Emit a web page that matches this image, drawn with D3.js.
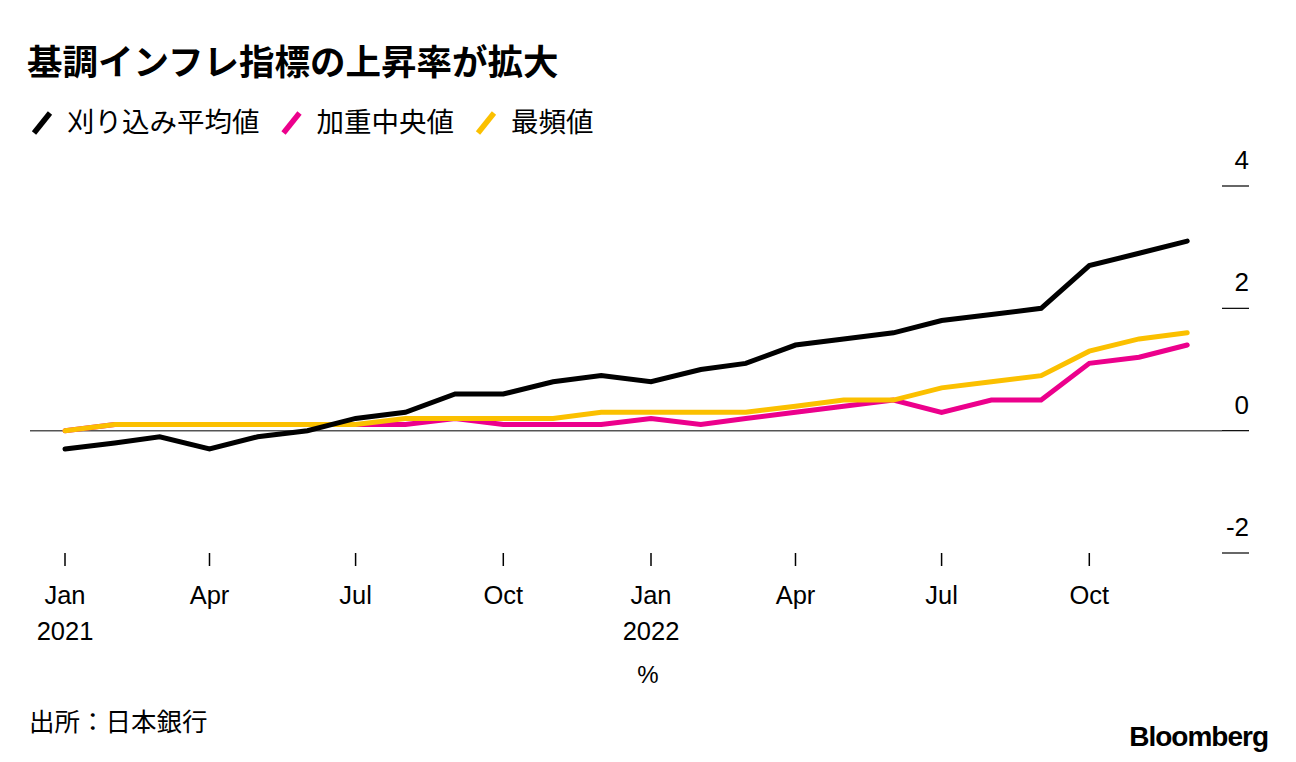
<!DOCTYPE html>
<html><head><meta charset="utf-8">
<script src="https://cdn.jsdelivr.net/npm/d3@7"></script>
<style>
body{margin:0;background:#fff;}
svg{display:block;font-family:"Liberation Sans","Noto Sans CJK JP",sans-serif;}
</style></head>
<body><svg id="c" width="1296" height="762"></svg>
<script>
const months = ["2021-01","2021-02","2021-03","2021-04","2021-05","2021-06","2021-07","2021-08","2021-09","2021-10","2021-11","2021-12",
"2022-01","2022-02","2022-03","2022-04","2022-05","2022-06","2022-07","2022-08","2022-09","2022-10","2022-11","2022-12"];
const trimmedMean = [-0.3,-0.2,-0.1,-0.3,-0.1,0.0,0.2,0.3,0.6,0.6,0.8,0.9,0.8,1.0,1.1,1.4,1.5,1.6,1.8,1.9,2.0,2.7,2.9,3.1];
const weightedMedian = [0.0,0.1,0.1,0.1,0.1,0.1,0.1,0.1,0.2,0.1,0.1,0.1,0.2,0.1,0.2,0.3,0.4,0.5,0.3,0.5,0.5,1.1,1.2,1.4];
const mode = [0.0,0.1,0.1,0.1,0.1,0.1,0.1,0.2,0.2,0.2,0.2,0.3,0.3,0.3,0.3,0.4,0.5,0.5,0.7,0.8,0.9,1.3,1.5,1.6];
const seriesNames = ["刈り込み平均値","加重中央値","最頻値"];
const seriesColors = ["#000000","#ec008c","#fbc000"];
const yTicks = [-2,0,2,4];
const xTickDates = ["2021-01","2021-04","2021-07","2021-10","2022-01","2022-04","2022-07","2022-10"];
const xTickLabels = ["Jan","Apr","Jul","Oct","Jan","Apr","Jul","Oct"];
const xTickYears = ["2021","","","","2022","","",""];
const title = "基調インフレ指標の上昇率が拡大";
const unit = "%";
const source = "出所：日本銀行";

const parse = d3.timeParse("%Y-%m");
const svg = d3.select("#c");
const x = d3.scaleTime().domain([parse("2021-01"), parse("2022-01")]).range([65, 651]);
const y = d3.scaleLinear().domain([-2, 4]).range([553, 186]);
const jp = "'Noto Sans CJK JP',sans-serif";

svg.append("text").attr("x",27).attr("y",75).attr("font-size",35.5).attr("font-weight",700)
  .attr("font-family",jp).attr("fill","#000").text(title);

// legend
let lx = 30;
const legG = svg.append("g");
seriesNames.forEach((n,i)=>{
  const g = legG.append("g");
  g.append("line").attr("x1",lx+4).attr("y1",133).attr("x2",lx+20).attr("y2",113)
   .attr("stroke",seriesColors[i]).attr("stroke-width",5.5).attr("stroke-linecap","butt");
  const t = g.append("text").attr("x",lx+37).attr("y",132).attr("font-size",27.5).attr("font-family",jp)
   .attr("fill","#000").text(n);
  lx += 37 + t.node().getComputedTextLength() + 20;
});

// y axis ticks
const yg = svg.append("g");
yTicks.forEach(v=>{
  yg.append("line").attr("x1",1222).attr("x2",1249).attr("y1",y(v)).attr("y2",y(v))
    .attr("stroke","#000").attr("stroke-width",1.2);
  yg.append("text").attr("x",1249).attr("y",y(v)-17).attr("text-anchor","end")
    .attr("font-size",26).attr("fill","#000").text(v);
});
// zero line
svg.append("line").attr("x1",30).attr("x2",1222).attr("y1",y(0)).attr("y2",y(0))
  .attr("stroke","#555").attr("stroke-width",1.5);

// x axis ticks
const xg = svg.append("g");
xTickDates.forEach((d,i)=>{
  const xx = x(parse(d));
  xg.append("line").attr("x1",xx).attr("x2",xx).attr("y1",553).attr("y2",566)
    .attr("stroke","#000").attr("stroke-width",1.5);
  xg.append("text").attr("x",xx).attr("y",604).attr("text-anchor","middle").attr("font-size",25.5)
    .attr("fill","#000").text(xTickLabels[i]);
  if (xTickYears[i]) xg.append("text").attr("x",xx).attr("y",640).attr("text-anchor","middle")
    .attr("font-size",25.5).attr("fill","#000").text(xTickYears[i]);
});
svg.append("text").attr("x",x(parse("2022-01"))-3).attr("y",683).attr("text-anchor","middle")
  .attr("font-size",24).attr("fill","#000").text(unit);

// lines
const dates = months.map(parse);
const line = d3.line().x((d,i)=>x(dates[i])).y(d=>y(d));
const order = [1,2,0];
const allSeries = [trimmedMean, weightedMedian, mode];
order.forEach(i=>{
  svg.append("path").attr("d", line(allSeries[i])).attr("fill","none")
    .attr("stroke",seriesColors[i]).attr("stroke-width",5).attr("stroke-linejoin","miter")
    .attr("stroke-linecap","round");
});

svg.append("text").attr("x",29).attr("y",731).attr("font-size",25.5).attr("font-family",jp)
  .attr("fill","#000").text(source);
svg.append("text").attr("x",1268).attr("y",746).attr("text-anchor","end").attr("font-size",28)
  .attr("font-weight",700).attr("letter-spacing",-1).attr("fill","#000").text("Bloomberg");
</script></body></html>
